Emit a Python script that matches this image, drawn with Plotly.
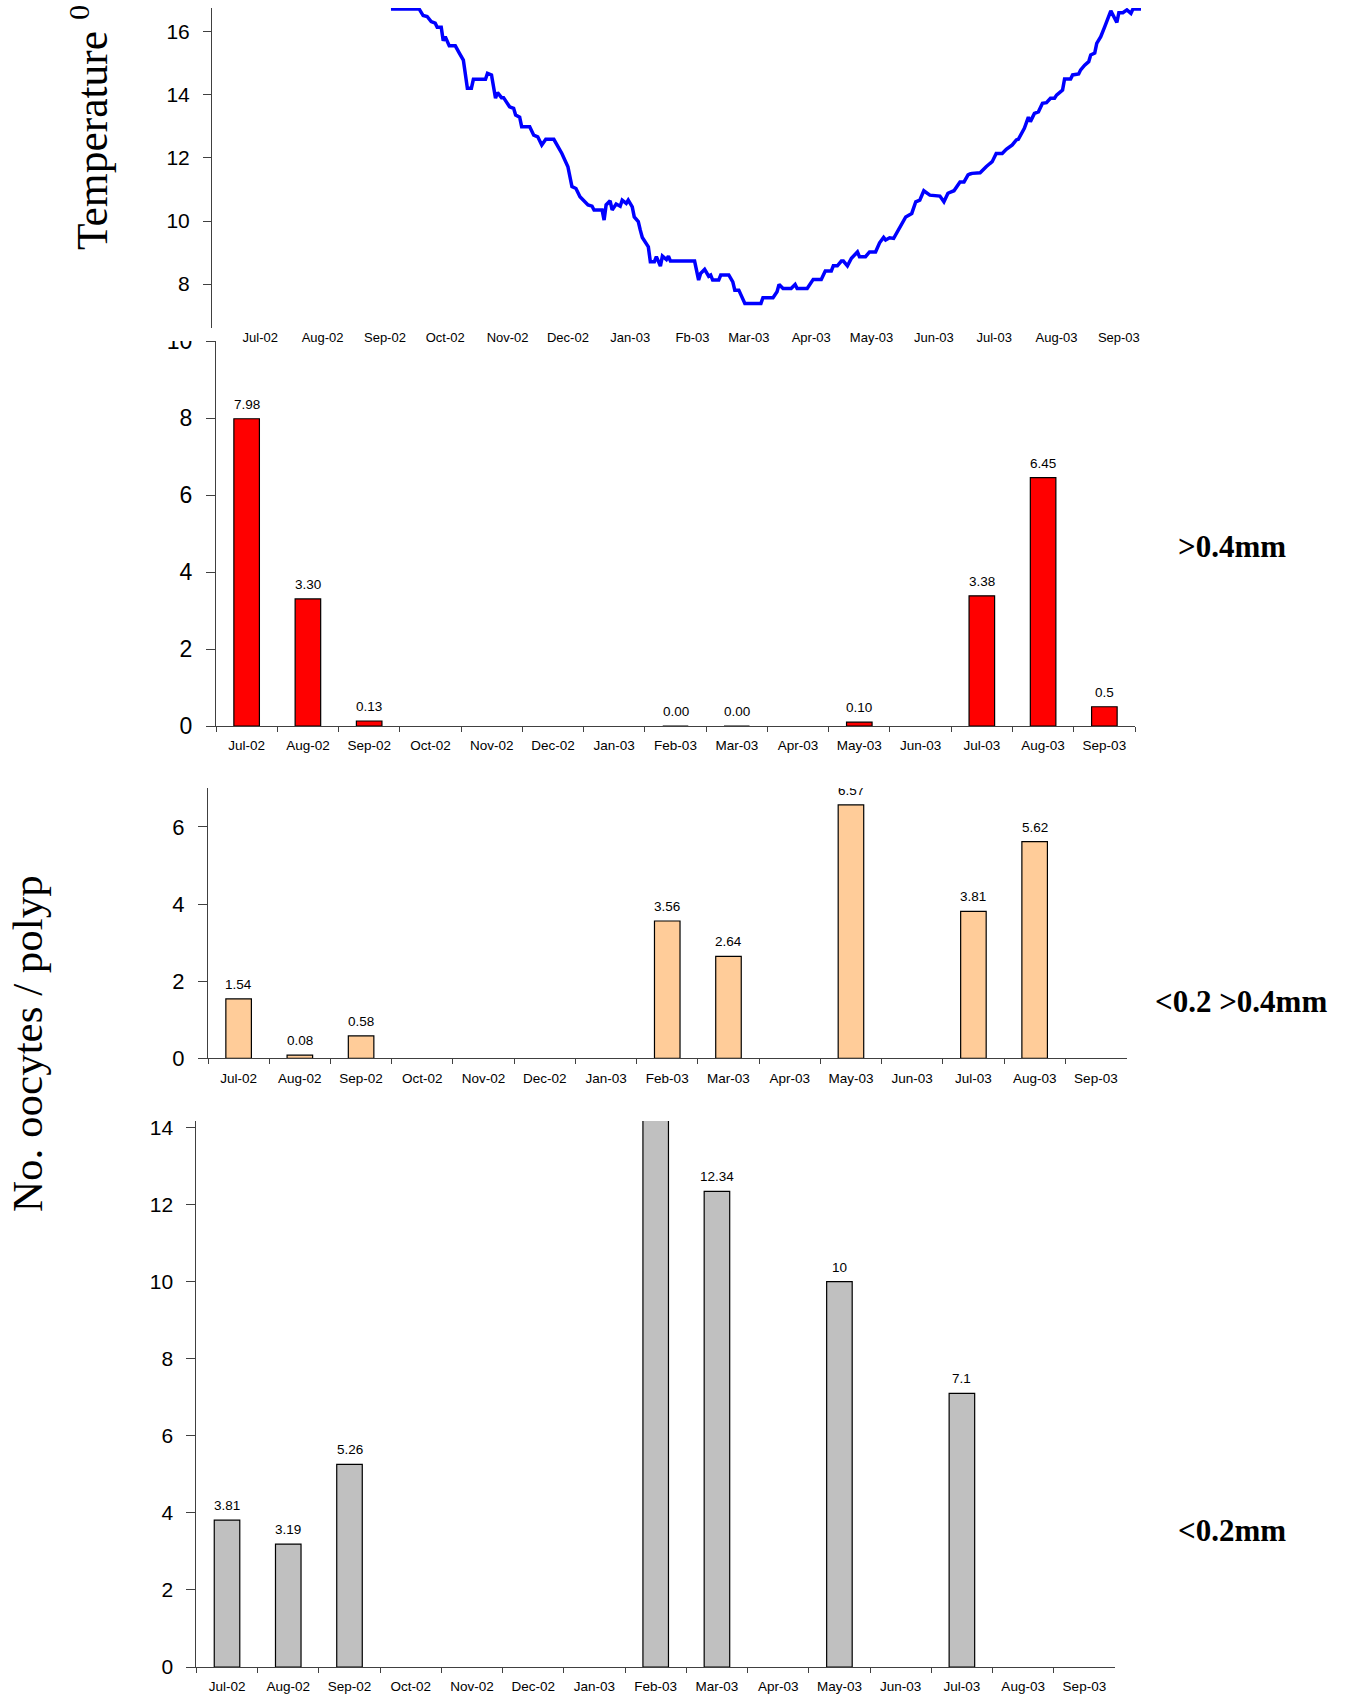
import plotly.graph_objects as go

W, H = 1348, 1695
SANS = "Liberation Sans, Arial, sans-serif"
SERIF = "Liberation Serif, Times New Roman, serif"
AXIS = "#404040"

# ---- data -------------------------------------------------------------
months = ["Jul-02", "Aug-02", "Sep-02", "Oct-02", "Nov-02", "Dec-02", "Jan-03",
          "Feb-03", "Mar-03", "Apr-03", "May-03", "Jun-03", "Jul-03", "Aug-03", "Sep-03"]

temp_tick_text = ["Jul-02", "Aug-02", "Sep-02", "Oct-02", "Nov-02", "Dec-02", "Jan-03",
                  "Fb-03", "Mar-03", "Apr-03", "May-03", "Jun-03", "Jul-03", "Aug-03", "Sep-03"]
temp_tick_dates = ["2002-07-16", "2002-08-16", "2002-09-16", "2002-10-16", "2002-11-16",
                   "2002-12-16", "2003-01-16", "2003-02-16", "2003-03-16", "2003-04-16",
                   "2003-05-16", "2003-06-16", "2003-07-16", "2003-08-16", "2003-09-16"]

temp_dates = [
    "2002-09-19", "2002-10-03", "2002-10-05", "2002-10-07", "2002-10-09", "2002-10-11",
    "2002-10-12", "2002-10-14", "2002-10-15", "2002-10-16", "2002-10-18", "2002-10-21",
    "2002-10-23", "2002-10-25", "2002-10-27", "2002-10-29", "2002-10-30", "2002-11-05",
    "2002-11-06", "2002-11-08", "2002-11-10", "2002-11-11", "2002-11-13", "2002-11-14",
    "2002-11-17", "2002-11-19", "2002-11-20", "2002-11-22", "2002-11-23", "2002-11-27",
    "2002-11-29", "2002-12-01", "2002-12-03", "2002-12-05", "2002-12-09", "2002-12-11",
    "2002-12-13", "2002-12-16", "2002-12-18", "2002-12-20", "2002-12-22", "2002-12-26",
    "2002-12-28", "2002-12-29", "2003-01-02", "2003-01-03", "2003-01-04", "2003-01-06",
    "2003-01-07", "2003-01-09", "2003-01-11", "2003-01-12", "2003-01-14", "2003-01-15",
    "2003-01-17", "2003-01-18", "2003-01-20", "2003-01-21", "2003-01-22", "2003-01-25",
    "2003-01-26", "2003-01-28", "2003-01-29", "2003-01-31", "2003-02-01", "2003-02-03",
    "2003-02-04", "2003-02-05", "2003-02-17", "2003-02-19", "2003-02-20", "2003-02-22",
    "2003-02-24", "2003-02-25", "2003-02-26", "2003-03-01", "2003-03-02", "2003-03-06",
    "2003-03-08", "2003-03-09", "2003-03-11", "2003-03-14", "2003-03-22", "2003-03-23",
    "2003-03-28", "2003-03-30", "2003-03-31", "2003-04-02", "2003-04-06", "2003-04-08",
    "2003-04-09", "2003-04-14", "2003-04-17", "2003-04-21", "2003-04-23", "2003-04-26",
    "2003-04-27", "2003-04-29", "2003-05-01", "2003-05-02", "2003-05-04", "2003-05-06",
    "2003-05-09", "2003-05-10", "2003-05-13", "2003-05-15", "2003-05-18", "2003-05-20",
    "2003-05-22", "2003-05-23", "2003-05-25", "2003-05-27", "2003-05-31", "2003-06-02",
    "2003-06-05", "2003-06-07", "2003-06-09", "2003-06-11", "2003-06-14", "2003-06-19",
    "2003-06-21", "2003-06-23", "2003-06-26", "2003-06-29", "2003-07-01", "2003-07-03",
    "2003-07-04", "2003-07-05", "2003-07-09", "2003-07-11", "2003-07-12", "2003-07-14",
    "2003-07-15", "2003-07-17", "2003-07-20", "2003-07-22", "2003-07-24", "2003-07-25",
    "2003-07-27", "2003-07-28", "2003-07-31", "2003-08-02", "2003-08-03", "2003-08-05",
    "2003-08-07", "2003-08-09", "2003-08-11", "2003-08-13", "2003-08-15", "2003-08-16",
    "2003-08-19", "2003-08-20", "2003-08-23", "2003-08-24", "2003-08-27", "2003-08-28",
    "2003-08-30", "2003-09-01", "2003-09-02", "2003-09-04", "2003-09-05", "2003-09-07",
    "2003-09-09", "2003-09-11", "2003-09-12", "2003-09-15", "2003-09-16", "2003-09-18",
    "2003-09-20", "2003-09-22", "2003-09-23", "2003-09-27",
]
temp_values = [
    16.72, 16.72, 16.51, 16.48, 16.32, 16.27,
    16.14, 16.14, 15.71, 15.84, 15.55, 15.55,
    15.32, 15.10, 14.21, 14.21, 14.49, 14.49,
    14.68, 14.63, 13.89, 14.07, 13.91, 13.91,
    13.62, 13.57, 13.36, 13.29, 12.99, 12.99,
    12.72, 12.67, 12.41, 12.59, 12.59, 12.38,
    12.14, 11.72, 11.09, 11.03, 10.77, 10.51,
    10.47, 10.35, 10.35, 10.03, 10.51, 10.64,
    10.35, 10.54, 10.47, 10.66, 10.56, 10.66,
    10.45, 10.13, 9.98, 9.71, 9.48, 9.18,
    8.71, 8.71, 8.87, 8.57, 8.89, 8.78,
    8.89, 8.73, 8.73, 8.13, 8.34, 8.47,
    8.25, 8.29, 8.13, 8.13, 8.29, 8.29,
    8.07, 7.81, 7.81, 7.39, 7.39, 7.57,
    7.57, 7.76, 7.99, 7.86, 7.86, 7.99,
    7.86, 7.86, 8.15, 8.15, 8.42, 8.42,
    8.58, 8.58, 8.73, 8.73, 8.58, 8.82,
    9.02, 8.87, 8.87, 9.02, 9.02, 9.31,
    9.48, 9.40, 9.47, 9.45, 9.93, 10.13,
    10.24, 10.61, 10.66, 10.96, 10.82, 10.79,
    10.61, 10.88, 10.96, 11.24, 11.24, 11.46,
    11.49, 11.51, 11.53, 11.67, 11.72, 11.83,
    11.88, 12.14, 12.14, 12.27, 12.35, 12.41,
    12.57, 12.59, 12.94, 13.29, 13.15, 13.41,
    13.46, 13.73, 13.75, 13.89, 13.89, 13.99,
    14.15, 14.50, 14.50, 14.63, 14.66, 14.79,
    14.94, 15.05, 15.26, 15.32, 15.63, 15.84,
    16.16, 16.50, 16.66, 16.29, 16.60, 16.60,
    16.69, 16.58, 16.72, 16.72,
]

# oocytes per polyp, by size class (None = no sample)
large_values = [7.98, 3.30, 0.13, None, None, None, None, 0.00, 0.00, None, 0.10, None, 3.38, 6.45, 0.5]
large_digits = [2, 2, 2, None, None, None, None, 2, 2, None, 2, None, 2, 2, 1]

mid_values = [1.54, 0.08, 0.58, None, None, None, None, 3.56, 2.64, None, 6.57, None, 3.81, 5.62, None]
mid_digits = [2, 2, 2, None, None, None, None, 2, 2, None, 2, None, 2, 2, None]

small_values = [3.81, 3.19, 5.26, None, None, None, None, 14.2, 12.34, None, 10, None, 7.1, None, None]
small_digits = [2, 2, 2, None, None, None, None, None, 2, None, 0, None, 1, None, None]


# ---- layout helpers (pixel boxes -> paper fractions) ---------------------
def xdom(left, right):
    return [left / W, right / W]


def ydom(top, bottom):
    return [1 - bottom / H, 1 - top / H]


def px_x(x):
    return x / W


def px_y(y):
    return 1 - y / H


fig = go.Figure()

fig.add_trace(go.Scatter(
    x=temp_dates, y=temp_values, mode="lines",
    line=dict(color="#0000FF", width=3.5),
    xaxis="x", yaxis="y", showlegend=False, hoverinfo="skip",
))

panels = [
    ("2", large_values, large_digits, "#FF0000"),
    ("3", mid_values, mid_digits, "#FFCC99"),
    ("4", small_values, small_digits, "#C0C0C0"),
]

annotations = []
for key, vals, digits, color in panels:
    fig.add_trace(go.Bar(
        x=months, y=vals, width=0.417,
        marker=dict(color=color, line=dict(color="black", width=1.2)),
        xaxis="x" + key, yaxis="y" + key, showlegend=False, hoverinfo="skip",
    ))
    for m, v, d in zip(months, vals, digits):
        if v is None or d is None:
            continue
        annotations.append(dict(
            x=m, y=v, xref="x" + key, yref="y" + key,
            text=f"{v:.{d}f}", showarrow=False,
            xanchor="center", yanchor="bottom", yshift=5,
            font=dict(family=SANS, size=13.5, color="black"),
        ))

tick_font = dict(family=SANS, size=13.5, color="black")


def bar_xaxis(dom, anchor):
    return dict(
        domain=dom, anchor=anchor, type="category",
        categoryorder="array", categoryarray=months, range=[-0.5, 14.5],
        tickson="boundaries", ticks="outside", ticklen=5, tickcolor=AXIS,
        showline=True, linecolor=AXIS, linewidth=1,
        showgrid=False, zeroline=False, tickfont=tick_font,
        ticklabelstandoff=7, automargin=False, fixedrange=True,
    )


def bar_yaxis(dom, anchor, top, size):
    return dict(
        domain=dom, anchor=anchor, range=[0, top], dtick=2, tick0=0,
        ticks="outside", ticklen=9, tickcolor=AXIS,
        showline=True, linecolor=AXIS, linewidth=1,
        showgrid=False, zeroline=False,
        tickfont=dict(family=SANS, size=size, color="black"),
        ticklabelstandoff=9, automargin=False, fixedrange=True,
    )


layout_axes = dict(
    xaxis=dict(
        domain=xdom(212, 1145), anchor="y", type="date",
        range=["2002-06-22", "2003-09-29"],
        tickvals=temp_tick_dates, ticktext=temp_tick_text,
        ticks="", showline=False, showgrid=False, zeroline=False,
        tickfont=dict(family=SANS, size=13, color="black"),
        automargin=False, fixedrange=True,
    ),
    yaxis=dict(
        domain=ydom(8, 328), anchor="x", range=[6.61, 16.75],
        tickvals=[8, 10, 12, 14, 16],
        ticks="outside", ticklen=8, tickcolor=AXIS,
        showline=True, linecolor=AXIS, linewidth=1,
        showgrid=False, zeroline=False,
        tickfont=dict(family=SANS, size=21, color="black"),
        ticklabelstandoff=9, automargin=False, fixedrange=True,
    ),
    xaxis2=bar_xaxis(xdom(216, 1135), "y2"),
    yaxis2=bar_yaxis(ydom(341, 726), "x2", 10, 23),
    xaxis3=bar_xaxis(xdom(208, 1126.5), "y3"),
    yaxis3=bar_yaxis(ydom(788.3, 1058.3), "x3", 7, 22),
    xaxis4=bar_xaxis(xdom(196.4, 1115), "y4"),
    yaxis4=bar_yaxis(ydom(1120.9, 1667), "x4", 14.17, 21),
)

# axis titles and size-class captions
annotations += [
    dict(x=px_x(89), y=px_y(128), xref="paper", yref="paper",
         text="Temperature <sup>0</sup>", textangle=-90, showarrow=False,
         xanchor="center", yanchor="middle",
         font=dict(family=SERIF, size=43.5, color="black")),
    dict(x=px_x(27), y=px_y(1044), xref="paper", yref="paper",
         text="No. oocytes / polyp", textangle=-90, showarrow=False,
         xanchor="center", yanchor="middle",
         font=dict(family=SERIF, size=43, color="black")),
    dict(x=px_x(1232), y=px_y(546), xref="paper", yref="paper",
         text="<b>&gt;0.4mm</b>", showarrow=False,
         xanchor="center", yanchor="middle",
         font=dict(family=SERIF, size=31, color="black")),
    dict(x=px_x(1241), y=px_y(1001), xref="paper", yref="paper",
         text="<b>&lt;0.2 &gt;0.4mm</b>", showarrow=False,
         xanchor="center", yanchor="middle",
         font=dict(family=SERIF, size=31, color="black")),
    dict(x=px_x(1232), y=px_y(1530), xref="paper", yref="paper",
         text="<b>&lt;0.2mm</b>", showarrow=False,
         xanchor="center", yanchor="middle",
         font=dict(family=SERIF, size=31, color="black")),
]

# the stacked panels overlap slightly: the upper panel's background hides
# the top of the lower panel's highest labels
for cx, cy, w, h in [(182, 329.5, 44, 23), (850, 778, 44, 20)]:
    annotations.append(dict(
        x=px_x(cx), y=px_y(cy), xref="paper", yref="paper",
        text=" ", showarrow=False, width=w, height=h,
        bgcolor="white", borderpad=0, borderwidth=0,
        xanchor="center", yanchor="middle",
    ))

fig.update_layout(
    width=W, height=H,
    margin=dict(l=0, r=0, t=0, b=0, pad=0, autoexpand=False),
    paper_bgcolor="white", plot_bgcolor="white",
    bargap=0.583, showlegend=False,
    annotations=annotations,
    **layout_axes,
)

fig.write_html("out.html", config={"displayModeBar": False})
